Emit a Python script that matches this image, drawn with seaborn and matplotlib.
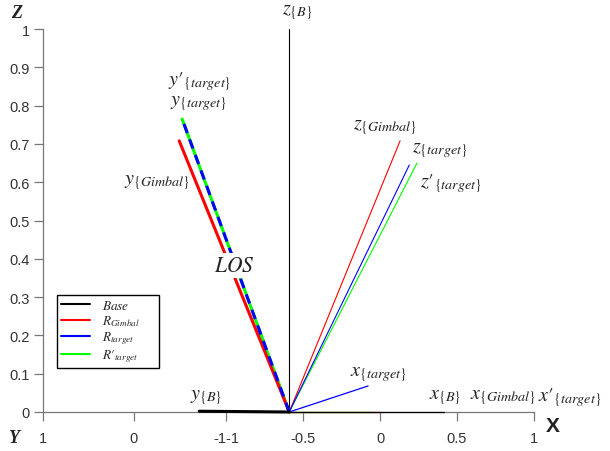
import numpy as np
import pandas as pd
import matplotlib
matplotlib.use("Agg")
import matplotlib.pyplot as plt
import seaborn as sns
from matplotlib.lines import Line2D

sns.set_theme(style="white")
plt.rcParams['font.family'] = ['Liberation Sans', 'DejaVu Sans']
plt.rcParams['mathtext.fontset'] = 'stix'

# ---- data -------------------------------------------------------------
origin = (-0.59, 0.0)
frames = ["Base", "Gimbal", "target", "target'"]
frame_colors = ["black", "#ff0000", "#0000ff", "#00ff00"]
legend_labels = [r"$Base$", r"$R_{Gimbal}$", r"$R_{target}$", r"$R\prime_{target}$"]

# end points of the x, y, z axes of each frame (X, Z in projection)
x_end_x = [0.415, -0.01, -0.078, -0.05]
x_end_z = [0.0, 0.0, 0.068, 0.0]
y_end_x = [-1.175, -1.305, -1.286, -1.286]
y_end_z = [0.002, 0.708, 0.765, 0.765]
z_end_x = [-0.59, 0.13, 0.19, 0.24]
z_end_z = [1.0, 0.708, 0.645, 0.65]

xtick_pos = [-2.19, -1.6, -1.0, -0.5, 0.0, 0.5, 1.0]
xtick_labels = ["1", "0", "-1-1", "-0.5", "0", "0.5", "1"]
ytick_pos = [0, 0.1, 0.2, 0.3, 0.4, 0.5, 0.6, 0.7, 0.8, 0.9, 1.0]
ytick_labels = ["0", "0.1", "0.2", "0.3", "0.4", "0.5", "0.6", "0.7", "0.8", "0.9", "1"]

fig = plt.figure(figsize=(6.1, 4.52), dpi=100)
ax = fig.add_axes([43/610, 39/452, (534-43)/610, (413-30)/452])


def seg(xe, ze, color, lw, ls="-", z=2):
    df = pd.DataFrame({"X": [origin[0], xe], "Z": [origin[1], ze]})
    sns.lineplot(data=df, x="X", y="Z", ax=ax, color=color, lw=lw,
                 linestyle=ls, sort=False, estimator=None, clip_on=False,
                 zorder=z, legend=False)

# thin x and z axes; draw order: green, red, blue, black
for i in [3, 1, 2, 0]:
    c = frame_colors[i]
    seg(x_end_x[i], x_end_z[i], c, 0.9, z=3)
    seg(z_end_x[i], z_end_z[i], c, 0.8, z=3)
# y axes (thick)
seg(y_end_x[3], y_end_z[3], frame_colors[3], 2.2, z=4)
seg(y_end_x[1], y_end_z[1], frame_colors[1], 2.2, z=4)
seg(y_end_x[2], y_end_z[2], frame_colors[2], 2.2, ls=(0, (3.2, 2.2)), z=5)
seg(y_end_x[0], y_end_z[0], frame_colors[0], 2.2, z=5)

ax.set_xlim(-2.19, 1.0)
ax.set_ylim(0, 1)
ax.set_xticks(xtick_pos)
ax.set_xticklabels(xtick_labels)
ax.set_yticks(ytick_pos)
ax.set_yticklabels(ytick_labels)
ax.set_xlabel("")
ax.set_ylabel("")
for s in ["top", "right"]:
    ax.spines[s].set_visible(False)
for s in ["left", "bottom"]:
    ax.spines[s].set_color("#777777")
    ax.spines[s].set_linewidth(0.9)
ax.tick_params(axis="both", direction="out", length=6.5, width=0.9,
               color="#777777", labelsize=10.5, labelcolor="#333333",
               bottom=True, left=True)
ax.tick_params(axis="y", pad=3)
ax.tick_params(axis="x", pad=7.5)

tkw = dict(fontsize=14.5, ha="center", va="center", color="#222222")
ax.text(-0.535, 1.045, r"$z_{\{B\}}$", clip_on=False, **tkw)
ax.text(-1.17, 0.865, r"$y\prime_{\{target\}}$", **tkw)
ax.text(-1.18, 0.807, r"$y_{\{target\}}$", **tkw)
ax.text(-1.45, 0.603, r"$y_{\{Gimbal\}}$", **tkw)
ax.text(-0.95, 0.383, r"$LOS$", fontsize=15.5, ha="center", va="center",
        color="#222222", bbox=dict(facecolor="white", edgecolor="none", pad=1.5),
        zorder=6)
ax.text(0.03, 0.745, r"$z_{\{Gimbal\}}$", **tkw)
ax.text(0.385, 0.685, r"$z_{\{target\}}$", **tkw)
ax.text(0.462, 0.60, r"$z\prime_{\{target\}}$", **tkw)
ax.text(-0.01, 0.10, r"$x_{\{target\}}$", **tkw)
ax.text(0.42, 0.04, r"$x_{\{B\}}$", **tkw)
ax.text(0.80, 0.04, r"$x_{\{Gimbal\}}$", **tkw)
ax.text(1.23, 0.04, r"$x\prime_{\{target\}}$", clip_on=False, **tkw)
ax.text(-1.13, 0.04, r"$y_{\{B\}}$", **tkw)

fig.text(17/610, 1 - 13/452, "Z", fontsize=13, fontweight="bold", style="italic",
         family="Liberation Serif", ha="center", va="center", color="#222222")
fig.text(14/610, 1 - 439/452, "Y", fontsize=13, fontweight="bold", style="italic",
         family="Liberation Serif", ha="center", va="center", color="#222222")
fig.text(553/610, 1 - 427/452, "X", fontsize=15, fontweight="bold",
         ha="center", va="center", color="#222222")

handles = [Line2D([0], [0], color=c, lw=1.5) for c in frame_colors]
leg = ax.legend(handles, legend_labels, loc="lower left",
                bbox_to_anchor=(14/491, 44/383, 102/491, 69/383), mode="expand",
                fontsize=9.5, frameon=True,
                fancybox=False, edgecolor="black", framealpha=1,
                handlelength=2.2, borderpad=0.3, labelspacing=0.1,
                handletextpad=0.9, borderaxespad=0)
leg.get_frame().set_linewidth(1.0)

fig.savefig("out.png", dpi=100)
